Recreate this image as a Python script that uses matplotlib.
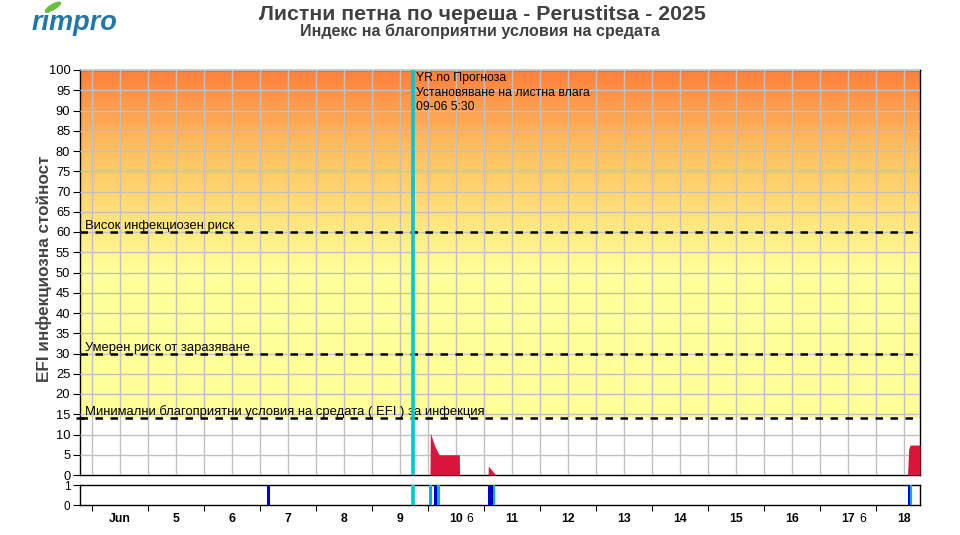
#!/usr/bin/env python3
"""
EFI (environmental favourability index) chart for cherry leaf spot, Perustitsa 2025.
"""

import matplotlib.dates as mdates
import matplotlib.pyplot as plt
import numpy as np
import pandas as pd
from matplotlib.colors import LinearSegmentedColormap
from matplotlib.patches import Ellipse

plt.rcParams["font.family"] = ["Liberation Sans", "DejaVu Sans"]

# --- data -----------------------------------------------------------------
title = "Листни петна по череша - Perustitsa - 2025"
subtitle = "Индекс на благоприятни условия на средата"
ylabel = "EFI инфекциозна стойност"

x_start = "2025-06-03 18:51"
x_end = "2025-06-18 18:51"
forecast_time = "2025-06-09 17:30"
forecast_text = "YR.no Прогноза\nУстановяване на листна влага\n09-06 5:30"

# EFI value series (three infection windows)
efi_times = [
    "2025-06-10 00:50", "2025-06-10 01:00", "2025-06-10 02:00", "2025-06-10 03:00",
    "2025-06-10 04:00", "2025-06-10 04:50", "2025-06-10 08:00", "2025-06-10 13:25",
    "2025-06-10 13:30",
    "2025-06-11 01:45", "2025-06-11 01:50", "2025-06-11 03:00", "2025-06-11 04:00",
    "2025-06-11 05:05",
    "2025-06-18 13:30", "2025-06-18 14:00", "2025-06-18 14:40", "2025-06-18 18:51",
]
efi_values = [
    0, 10.4, 8.6, 7.0,
    5.8, 5.0, 5.0, 5.0,
    0,
    0, 2.2, 1.4, 0.7,
    0,
    0, 6.4, 7.4, 7.4,
]

# risk thresholds
thresholds = [60, 30, 14]
threshold_labels = [
    "Висок инфекциозен риск",
    "Умерен риск от заразяване",
    "Минимални благоприятни условия на средата ( EFI ) за инфекция",
]

# leaf wetness strip: start, end, kind (0 = measured, 1 = forecast/other)
wet_starts = [
    "2025-06-07 03:00",
    "2025-06-10 00:30", "2025-06-10 02:40", "2025-06-10 04:00",
    "2025-06-11 01:40", "2025-06-11 02:50", "2025-06-11 03:40",
    "2025-06-18 13:40", "2025-06-18 14:30",
]
wet_ends = [
    "2025-06-07 04:10",
    "2025-06-10 01:50", "2025-06-10 04:00", "2025-06-10 05:20",
    "2025-06-11 02:50", "2025-06-11 03:40", "2025-06-11 04:50",
    "2025-06-18 14:30", "2025-06-18 15:20",
]
wet_kind = [0, 1, 0, 1, 0, 2, 1, 0, 1]
wet_colors = ["#0000d0", "#00aaff", "#000090"]

day_labels = ["Jun", "5", "6", "7", "8", "9", "10", "11", "12", "13", "14", "15", "16", "17", "18"]
day_first = "2025-06-04"
extra_labels = ["6", "6"]
extra_label_times = ["2025-06-10 18:00", "2025-06-17 18:30"]

# --- figure ---------------------------------------------------------------
fig = plt.figure(figsize=(9.6, 5.35), dpi=100)
ax = fig.add_axes([80 / 960, 1 - 475 / 535, 840 / 960, 405 / 535])
ax2 = fig.add_axes([80 / 960, 1 - 505 / 535, 840 / 960, 20 / 535])

x0, x1 = pd.to_datetime(x_start), pd.to_datetime(x_end)
for a in (ax, ax2):
    a.set_xlim(x0, x1)
    for s in a.spines.values():
        s.set_color("black")
        s.set_linewidth(1)

# background gradient from 14 to 100
cmap = LinearSegmentedColormap.from_list(
    "efi_bg",
    [(0.0, "#ffff99"), (0.42, "#ffff99"), (0.58, "#ffe27a"), (0.78, "#ffbd60"), (1.0, "#ff7f3c")],
)
grad = np.linspace(0, 1, 256).reshape(-1, 1)
ax.imshow(
    grad, cmap=cmap, origin="lower", aspect="auto", zorder=0,
    extent=[mdates.date2num(x0), mdates.date2num(x1), thresholds[2], 100],
)
ax.set_ylim(0, 100)
ax.set_xlim(x0, x1)

# grid: every 5 in y, every 12 h in x
ax.set_yticks(np.arange(0, 101, 5))
grid_times = pd.date_range("2025-06-04", "2025-06-18 12:00", freq="12h")
ax.set_xticks(grid_times)
ax.tick_params(axis="x", length=0, labelbottom=False)
ax.tick_params(axis="y", labelsize=9.3, length=5, pad=2)
ax.grid(True, color="#c0c0c0", linewidth=1, zorder=1)
ax.set_axisbelow(False)
for gl in ax.get_xgridlines() + ax.get_ygridlines():
    gl.set_zorder(1)

# EFI fill
t = pd.to_datetime(efi_times)
ax.fill_between(t, 0, efi_values, color="#dc143c", linewidth=0, zorder=3)

# thresholds
for y, lab in zip(thresholds, threshold_labels):
    ax.axhline(y, color="black", linestyle=(0, (3, 3)), linewidth=1.8, zorder=4)
    ax.annotate(lab, xy=(0, y), xycoords=("axes fraction", "data"), xytext=(3.5, 0),
                textcoords="offset points", fontsize=9.4, va="bottom", ha="left", zorder=5)
ax.set_yticks(thresholds, minor=True)
ax.tick_params(axis="y", which="minor", direction="inout", length=6, width=1.8, labelleft=False)

# forecast marker
ft = pd.to_datetime(forecast_time)
for a in (ax, ax2):
    a.axvline(ft, color="#00c8c8", linewidth=2.6, zorder=6)
ax.annotate(forecast_text, xy=(ft, 100), xytext=(2.5, -1.5), textcoords="offset points",
            fontsize=8.8, va="top", ha="left", linespacing=1.27, zorder=7)

ax.set_ylabel(ylabel, fontsize=12.3, fontweight="bold", color="#444444")
ax.yaxis.set_label_coords(-28 / 840, 0.51)

# leaf wetness strip
ws = pd.to_datetime(wet_starts)
we = pd.to_datetime(wet_ends)
for s, e, k in zip(ws, we, wet_kind):
    ax2.axvspan(s, e, ymin=0, ymax=1, color=wet_colors[k], linewidth=0, zorder=3)
ax2.set_ylim(0, 1)
ax2.set_yticks([0, 1])
ax2.tick_params(axis="y", labelsize=8.5, length=5, pad=2)

day0 = pd.to_datetime(day_first)
major = pd.date_range(day0, periods=15, freq="D")
ax2.set_xticks(major)
ax2.set_xticklabels([])
ax2.set_xticks(major + pd.Timedelta(hours=12), minor=True)
ax2.set_xticklabels(day_labels, minor=True, fontsize=8.8, fontweight="bold")
ax2.tick_params(axis="x", which="major", length=4, direction="out")
ax2.tick_params(axis="x", which="minor", length=0, pad=6)
for lab, tm in zip(extra_labels, extra_label_times):
    ax2.annotate(lab, xy=(pd.to_datetime(tm), 0), xycoords=("data", "axes fraction"),
                 xytext=(0, -6), textcoords="offset points", ha="center", va="top", fontsize=8.8)

# titles
fig.text(0.502, 1 - 14.5 / 535, title, ha="center", va="center", fontsize=15.3,
         fontweight="bold", color="#404040")
fig.text(0.500, 1 - 31.5 / 535, subtitle, ha="center", va="center", fontsize=11.6,
         fontweight="bold", color="#404040")

# logo
fig.text(32 / 960, 1 - 23 / 535, "rimpro", ha="left", va="center", fontsize=19.5,
         fontweight="bold", fontstyle="italic", color="#2276a8")
fig.patches.append(Ellipse((53 / 960, 1 - 7 / 535), 7 / 960, 12 / 535, angle=-40,
                           transform=fig.transFigure, color="#6cbf3c", zorder=5))

fig.savefig("out.png", dpi=100)
